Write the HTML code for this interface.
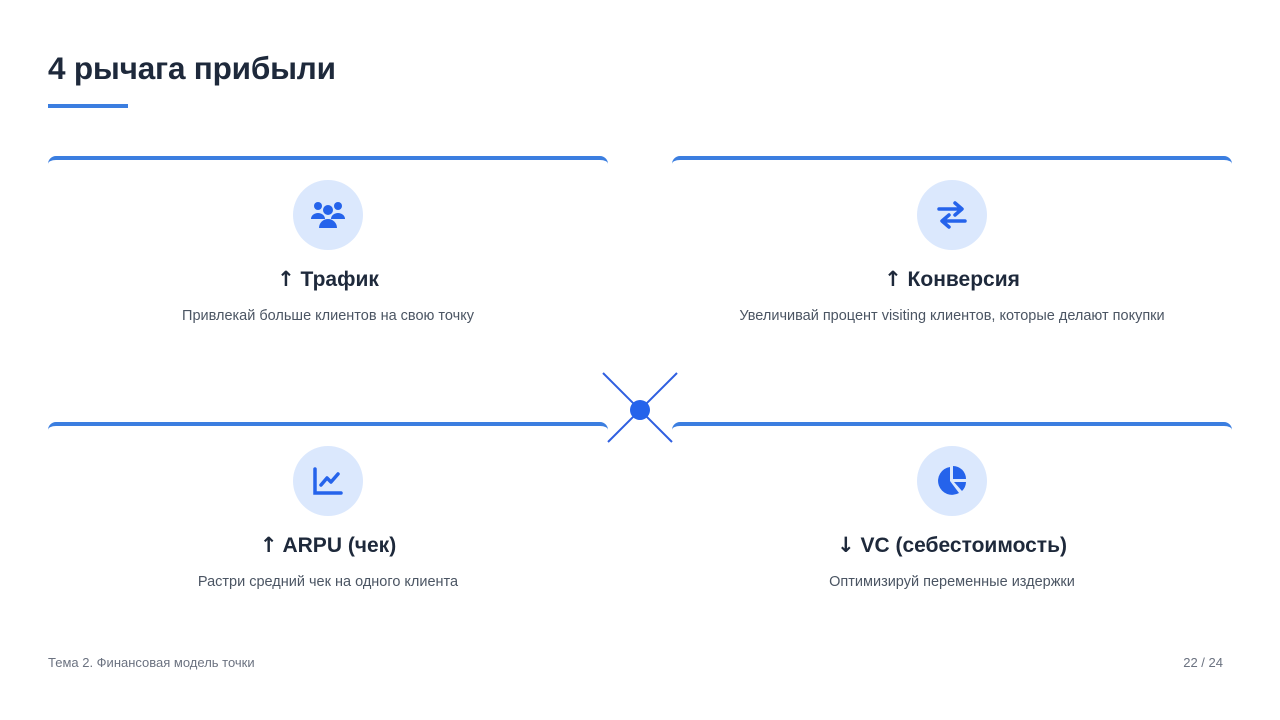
<!DOCTYPE html>
<html><head><meta charset="utf-8"><style>
*{margin:0;padding:0;box-sizing:border-box}
body{width:1280px;height:720px;background:#fff;position:relative;overflow:hidden;font-family:"Liberation Sans","DejaVu Sans",sans-serif;color:#1f2937}
h1{position:absolute;left:48px;top:50px;font-size:31.5px;font-weight:bold;color:#1e293b;letter-spacing:-0.2px}
.ul{position:absolute;left:48px;top:104px;width:80px;height:4px;background:#3b7ee0}
.card{position:absolute;width:560px;height:200px;border-top:4px solid #3b7ee0;border-radius:8px 8px 0 0;background:#fff}
.ic{position:absolute;left:245px;top:20px;width:70px;height:70px;border-radius:50%;background:#dbe8fd;display:flex;align-items:center;justify-content:center}
.t{position:absolute;left:0;width:560px;top:107px;text-align:center;font-size:21px;font-weight:bold;color:#1e293b}
.t b{font-family:"DejaVu Sans",sans-serif}
.d{position:absolute;left:0;width:560px;top:148px;text-align:center;font-size:14.5px;color:#4b5563}
.f{position:absolute;top:655px;font-size:13px;color:#6b7280}
</style></head><body>
<h1>4 рычага прибыли</h1><div class="ul"></div>
<div class="card" style="left:48px;top:156px"><div class="ic"><svg width="38" height="32" viewBox="0 0 38 32"><circle cx="9" cy="7" r="4" fill="#2563eb"/><circle cx="29" cy="7" r="4" fill="#2563eb"/><circle cx="19" cy="11" r="5" fill="#2563eb"/><path d="M2 20a7 6 0 0 1 14 0z M22 20a7 6 0 0 1 14 0z" fill="#2563eb"/><path d="M10 29a9 9 0 0 1 18 0z" fill="#2563eb"/></svg></div><div class="t"><b>↑</b> Трафик</div><div class="d">Привлекай больше клиентов на свою точку</div></div>
<div class="card" style="left:672px;top:156px"><div class="ic"><svg width="32" height="32" viewBox="0 0 32 32"><path d="M3 10h22M19 4l7 6-7 6M29 22H7M13 16l-7 6 7 6" stroke="#2563eb" stroke-width="3.5" fill="none" stroke-linecap="round" stroke-linejoin="round"/></svg></div><div class="t"><b>↑</b> Конверсия</div><div class="d">Увеличивай процент visiting клиентов, которые делают покупки</div></div>
<div class="card" style="left:48px;top:422px"><div class="ic"><svg width="32" height="30" viewBox="0 0 32 30"><path d="M3 3v24h26" stroke="#2563eb" stroke-width="3.5" fill="none" stroke-linecap="round"/><path d="M9 19l6-7 4 4 7-8" stroke="#2563eb" stroke-width="3.5" fill="none" stroke-linecap="round" stroke-linejoin="round"/></svg></div><div class="t"><b>↑</b> ARPU (чек)</div><div class="d">Растри средний чек на одного клиента</div></div>
<div class="card" style="left:672px;top:422px"><div class="ic"><svg width="34" height="34" viewBox="0 0 34 34"><path d="M15 3A14 14 0 1 0 24 29L15 17z" fill="#2563eb"/><path d="M18 2A13 13 0 0 1 31 15H18z" fill="#2563eb"/><path d="M19 18h12a13 13 0 0 1-4 9z" fill="#2563eb"/></svg></div><div class="t"><b>↓</b> VC (себестоимость)</div><div class="d">Оптимизируй переменные издержки</div></div>
<svg style="position:absolute;left:0;top:0" width="1280" height="720"><line x1="603" y1="373" x2="672" y2="442" stroke="#2f5fe0" stroke-width="2"/><line x1="677" y1="373" x2="608" y2="442" stroke="#2f5fe0" stroke-width="2"/><circle cx="640" cy="410" r="10" fill="#2563eb"/></svg>
<div class="f" style="left:48px">Тема 2. Финансовая модель точки</div>
<div class="f" style="right:57px">22 / 24</div>
</body></html>
